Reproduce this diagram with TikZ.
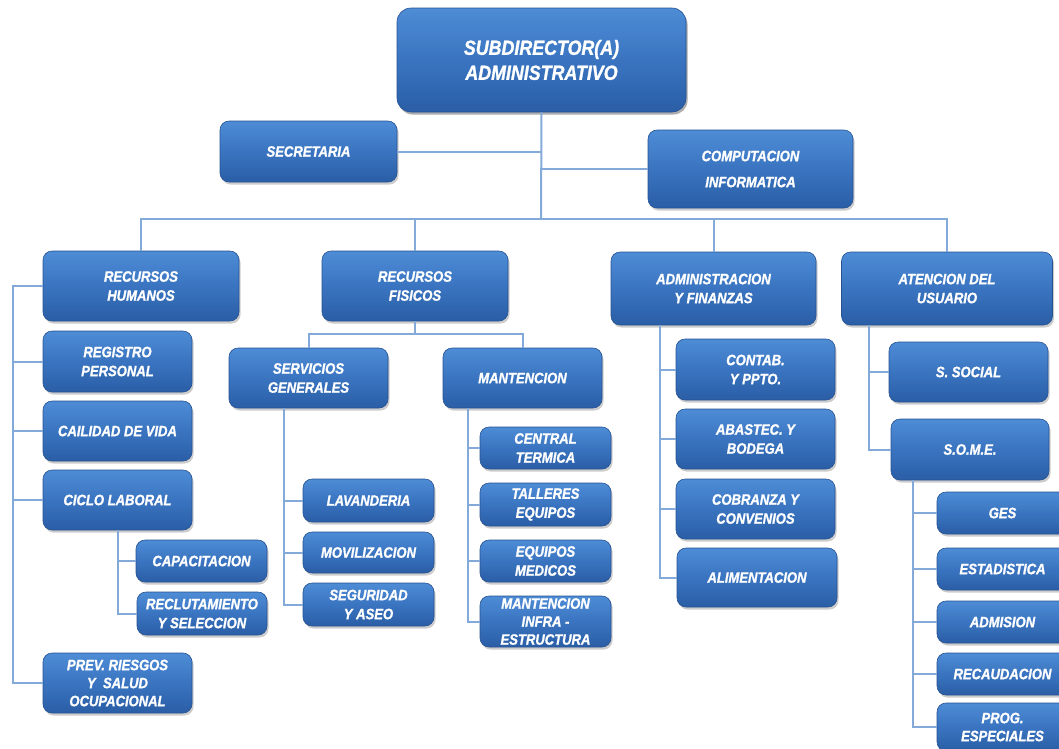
\documentclass[tikz,border=0pt]{standalone}
\usepackage{fontspec}
\newfontfamily\boxfont{Liberation Sans}[FakeStretch=0.87, FakeBold=1.2]
\usetikzlibrary{shadows}

\definecolor{boxtop}{RGB}{78,140,214}
\definecolor{boxmid}{RGB}{58,116,192}
\definecolor{boxbot}{RGB}{42,94,166}
\definecolor{boxedge}{RGB}{38,82,146}
\definecolor{linkc}{RGB}{132,170,218}

\tikzset{
  box/.style={rectangle, rounded corners=9pt,
    top color=boxtop, bottom color=boxbot, middle color=boxmid,
    draw=boxedge, line width=0.6pt, inner sep=0pt, align=center,
    text=white, font=\boxfont\bfseries\itshape\fontsize{15}{19}\selectfont,
    drop shadow={opacity=0.4, shadow xshift=1.5pt, shadow yshift=-2.5pt}},
  bigbox/.style={box, rounded corners=14pt,
    font=\boxfont\bfseries\itshape\fontsize{20.5}{25}\selectfont},
  link/.style={draw=linkc, line width=2pt}
}

% \bx[options]{name}{center x}{center y}{width}{height}{text}
\newcommand\bx[7][]{\node[box, minimum width=#5, minimum height=#6, #1] (#2) at (#3,#4) {#7};}

\begin{document}
\begin{tikzpicture}[x=1pt, y=-1pt]
\useasboundingbox (0,0) rectangle (1059,748);
\clip (0,0) rectangle (1059,748);

% top level
\bx[bigbox]{top}{541.5}{60}{289}{104}{SUBDIRECTOR(A)\\ADMINISTRATIVO}
\bx{sec}{308.5}{151.5}{177}{61}{SECRETARIA}
\bx{comp}{750.5}{169}{205}{78}{COMPUTACION\\[7pt]INFORMATICA}

% departments
\bx{rh}{141}{286}{196}{70}{RECURSOS\\HUMANOS}
\bx{rf}{415}{286}{186}{70}{RECURSOS\\FISICOS}
\bx{af}{713.5}{288.5}{205}{73}{ADMINISTRACION\\Y FINANZAS}
\bx{au}{947}{288.5}{211}{73}{ATENCION DEL\\USUARIO}

% recursos humanos
\bx{reg}{117.5}{361.5}{149}{61}{REGISTRO\\PERSONAL}
\bx{cai}{117.5}{431}{149}{60}{CAILIDAD DE VIDA}
\bx{cic}{117.5}{500}{149}{60}{CICLO LABORAL}
\bx{cap}{201.5}{561}{131}{42}{CAPACITACION}
\bx{rec}{202}{613.5}{130}{43}{RECLUTAMIENTO\\Y SELECCION}
\bx[font=\boxfont\bfseries\itshape\fontsize{15}{18}\selectfont]{prev}{117.5}{683}{149}{60}{PREV. RIESGOS\\Y\ \ SALUD\\OCUPACIONAL}

% recursos fisicos
\bx{sg}{308.5}{378}{159}{60}{SERVICIOS\\GENERALES}
\bx{mant}{522.5}{378}{159}{60}{MANTENCION}
\bx{lav}{368.5}{500.5}{131}{43}{LAVANDERIA}
\bx{mov}{368.5}{552.5}{131}{41}{MOVILIZACION}
\bx{seg}{368.5}{604.5}{131}{43}{SEGURIDAD\\Y ASEO}
\bx{ct}{545.5}{448}{131}{42}{CENTRAL\\TERMICA}
\bx{tal}{545.5}{504.5}{131}{43}{TALLERES\\EQUIPOS}
\bx{eqm}{545.5}{561}{131}{42}{EQUIPOS\\MEDICOS}
\bx[font=\boxfont\bfseries\itshape\fontsize{15}{18}\selectfont]{mi}{545.5}{621.5}{131}{51}{MANTENCION\\INFRA -\\ESTRUCTURA}

% administracion y finanzas
\bx{contab}{755.5}{369.5}{159}{61}{CONTAB.\\Y PPTO.}
\bx{abas}{755.5}{439}{159}{60}{ABASTEC. Y\\BODEGA}
\bx{cob}{755.5}{509}{159}{60}{COBRANZA Y\\CONVENIOS}
\bx{ali}{757}{577.5}{160}{59}{ALIMENTACION}

% atencion del usuario
\bx{ss}{968.5}{372}{159}{60}{S. SOCIAL}
\bx{some}{970}{449.5}{158}{61}{S.O.M.E.}
\bx{ges}{1002.5}{513}{131}{42}{GES}
\bx{est}{1002.5}{569}{131}{42}{ESTADISTICA}
\bx{adm}{1002.5}{622}{131}{42}{ADMISION}
\bx{rca}{1002.5}{674}{131}{42}{RECAUDACION}
\bx[font=\boxfont\bfseries\itshape\fontsize{15}{18}\selectfont]{prog}{1002.5}{727}{131}{48}{PROG.\\ESPECIALES}

% spine coordinates
\coordinate (bus) at (541,219);
\coordinate (rfbus) at (415,334);
\coordinate (rhx) at (13,0);
\coordinate (cicx) at (118,0);
\coordinate (sgx) at (284,0);
\coordinate (mantx) at (468,0);
\coordinate (afx) at (660,0);
\coordinate (aux) at (869,0);
\coordinate (somex) at (913,0);

% connectors: top level
\draw[link] (top.south) -- (bus);
\draw[link] (sec.east) -- (sec.east -| top.south);
\draw[link] (comp.west) -- (comp.west -| top.south);
\draw[link] (rh.north) -- (rh.north |- bus) -- (au.north |- bus) -- (au.north);
\draw[link] (rf.north) -- (rf.north |- bus);
\draw[link] (af.north) -- (af.north |- bus);

% recursos humanos
\draw[link] (rh.west) -- (rhx |- rh.west) -- (rhx |- prev.west) -- (prev.west);
\foreach \n in {reg,cai,cic} \draw[link] (rhx |- \n.west) -- (\n.west);
\draw[link] (cicx |- cic.south) -- (cicx |- rec.west) -- (rec.west);
\draw[link] (cicx |- cap.west) -- (cap.west);

% recursos fisicos
\draw[link] (rf.south) -- (rfbus);
\draw[link] (sg.north) -- (sg.north |- rfbus) -- (mant.north |- rfbus) -- (mant.north);
\draw[link] (sgx |- sg.south) -- (sgx |- seg.west) -- (seg.west);
\foreach \n in {lav,mov} \draw[link] (sgx |- \n.west) -- (\n.west);
\draw[link] (mantx |- mant.south) -- (mantx |- mi.west) -- (mi.west);
\foreach \n in {ct,tal,eqm} \draw[link] (mantx |- \n.west) -- (\n.west);

% administracion y finanzas
\draw[link] (afx |- af.south) -- (afx |- ali.west) -- (ali.west);
\foreach \n in {contab,abas,cob} \draw[link] (afx |- \n.west) -- (\n.west);

% atencion del usuario
\draw[link] (aux |- au.south) -- (aux |- some.west) -- (some.west);
\draw[link] (aux |- ss.west) -- (ss.west);
\draw[link] (somex |- some.south) -- (somex |- prog.west) -- (prog.west);
\foreach \n in {ges,est,adm,rca} \draw[link] (somex |- \n.west) -- (\n.west);
\end{tikzpicture}
\end{document}
